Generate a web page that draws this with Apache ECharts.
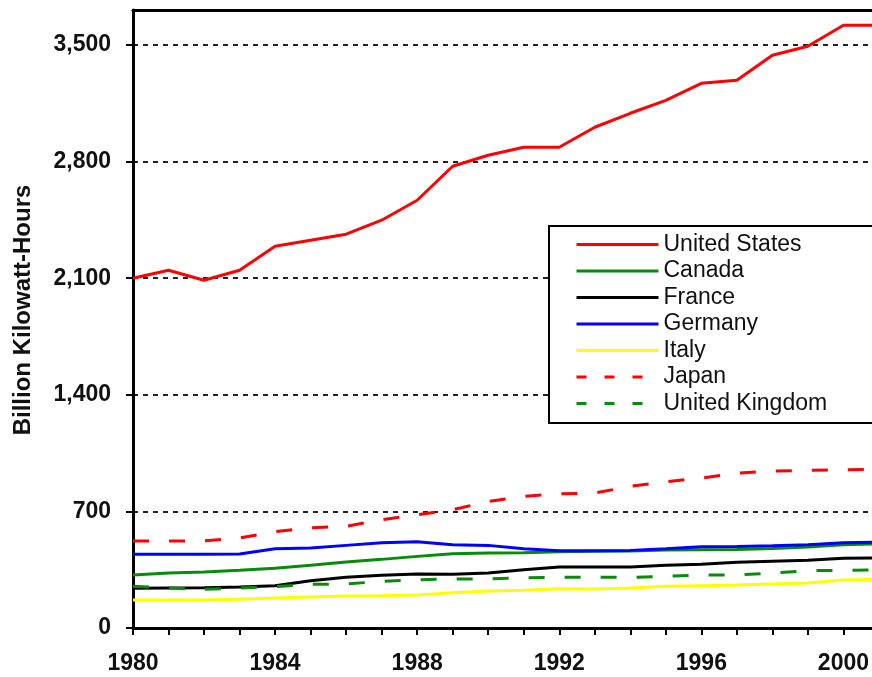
<!DOCTYPE html>
<html>
<head>
<meta charset="utf-8">
<script src="https://cdn.jsdelivr.net/npm/echarts@6/dist/echarts.min.js"></script>
<style>html,body{margin:0;padding:0;background:#fff;}#c{width:872px;height:677px;}</style>
</head>
<body>
<div id="c"></div>
<script>
const years = [1980,1981,1982,1983,1984,1985,1986,1987,1988,1989,1990,1991,1992,1993,1994,1995,1996,1997,1998,1999,2000,2001];
const unitedStates = [2100,2148,2088,2148,2292,2328,2364,2448,2568,2772,2838,2886,2886,3006,3090,3168,3270,3288,3438,3492,3618,3618];
const canada = [318,330,336,346,358,376,396,412,430,446,450,452,458,460,462,468,470,472,478,486,500,505];
const france = [238,240,242,246,254,284,304,316,324,322,330,350,366,366,366,376,382,394,400,406,418,420];
const germany = [442,442,442,444,476,480,496,512,518,500,496,476,464,464,466,476,488,490,494,500,512,516];
const italy = [168,168,168,172,180,186,192,194,198,212,222,226,236,234,240,250,254,258,264,270,288,292];
const japan = [522,522,524,540,578,602,610,650,680,710,760,790,806,810,850,878,900,930,942,946,950,952];
const unitedKingdom = [250,240,232,240,248,262,264,280,290,294,294,302,304,304,304,310,318,318,330,344,346,350];

const yTicks = [0,700,1400,2100,2800,3500];
const xTicks = [1980,1981,1982,1983,1984,1985,1986,1987,1988,1989,1990,1991,1992,1993,1994,1995,1996,1997,1998,1999,2000];
const xLabels = [1980,1984,1988,1992,1996,2000];

const FONT = '"Liberation Sans", Arial, sans-serif';
function pairs(vals){ return years.map((y,i)=>[y, vals[i]]); }
function fmt(v){ return String(v).replace(/\B(?=(\d{3})+(?!\d))/g, ','); }

const seriesDefs = [
  {name:'United States', data: unitedStates, color:'#ff0000', dash:'solid'},
  {name:'Canada', data: canada, color:'#0a8a0a', dash:'solid'},
  {name:'France', data: france, color:'#000000', dash:'solid'},
  {name:'Germany', data: germany, color:'#0000ff', dash:'solid'},
  {name:'Italy', data: italy, color:'#ffff00', dash:'solid'},
  {name:'Japan', data: japan, color:'#ff0000', dash:[16,20]},
  {name:'United Kingdom', data: unitedKingdom, color:'#0a8a0a', dash:[16,20]}
];

const chart = echarts.init(document.getElementById('c'), null, {renderer:'canvas'});
chart.setOption({
  animation: false,
  backgroundColor: '#fff',
  grid: {left: 133, top: 10, bottom: 49, right: 0, show: false, containLabel: false},
  xAxis: [{
    type: 'value', min: 1980, max: 2000.8,
    axisLine: {show: true, lineStyle: {color: '#000', width: 3}},
    axisTick: {show: true, length: 7, lineStyle: {color: '#000', width: 2}, customValues: xTicks},
    axisLabel: {customValues: xLabels, margin: 24, color: '#111', fontSize: 23, fontWeight: 'bold', fontFamily: FONT, formatter: v => String(v)},
    splitLine: {show: false}
  }, {
    type: 'value', position: 'top', min: 1980, max: 2000.8,
    axisLine: {show: true, lineStyle: {color: '#000', width: 3}},
    axisTick: {show: false}, axisLabel: {show: false}, splitLine: {show: false}
  }],
  yAxis: {
    type: 'value', min: 0, max: 3710,
    axisLine: {show: true, lineStyle: {color: '#000', width: 3}},
    axisTick: {show: true, length: 7, lineStyle: {color: '#000', width: 2}, customValues: yTicks},
    axisLabel: {customValues: yTicks, margin: 22, color: '#111', fontSize: 23, fontWeight: 'bold', fontFamily: FONT, formatter: v => fmt(v)},
    splitLine: {show: true, lineStyle: {color: '#222', width: 2, type: [5,5]}}
  },
  legend: {
    orient: 'vertical', left: 548, top: 225, z: 10,
    padding: [8, 20, 8, 27],
    itemWidth: 82, itemHeight: 14, itemGap: 3.5,
    itemStyle: {opacity: 0},
    lineStyle: {width: 3},
    textStyle: {fontSize: 23, fontFamily: FONT, color: '#111', lineHeight: 23},
    data: seriesDefs.map(s => Array.isArray(s.dash)
      ? {name: s.name, lineStyle: {width: 3, type: [10,18]}}
      : {name: s.name})
  },
  graphic: [{
    type: 'rect', z: 5, silent: true,
    shape: {x: 549, y: 226, width: 400, height: 197},
    style: {fill: '#fff', stroke: '#000', lineWidth: 2}
  }, {
    type: 'text', x: 23, y: 310, rotation: Math.PI/2,
    style: {text: 'Billion Kilowatt-Hours', fontSize: 24, fontWeight: 'bold', fontFamily: FONT, fill: '#111', textAlign: 'center', textVerticalAlign: 'middle'}
  }],
  series: seriesDefs.map(s => ({
    name: s.name, type: 'line', data: pairs(s.data), symbol: 'none', showSymbol: false, clip: true,
    itemStyle: {color: s.color},
    lineStyle: {color: s.color, width: 3, type: s.dash}
  }))
});
</script>
</body>
</html>
